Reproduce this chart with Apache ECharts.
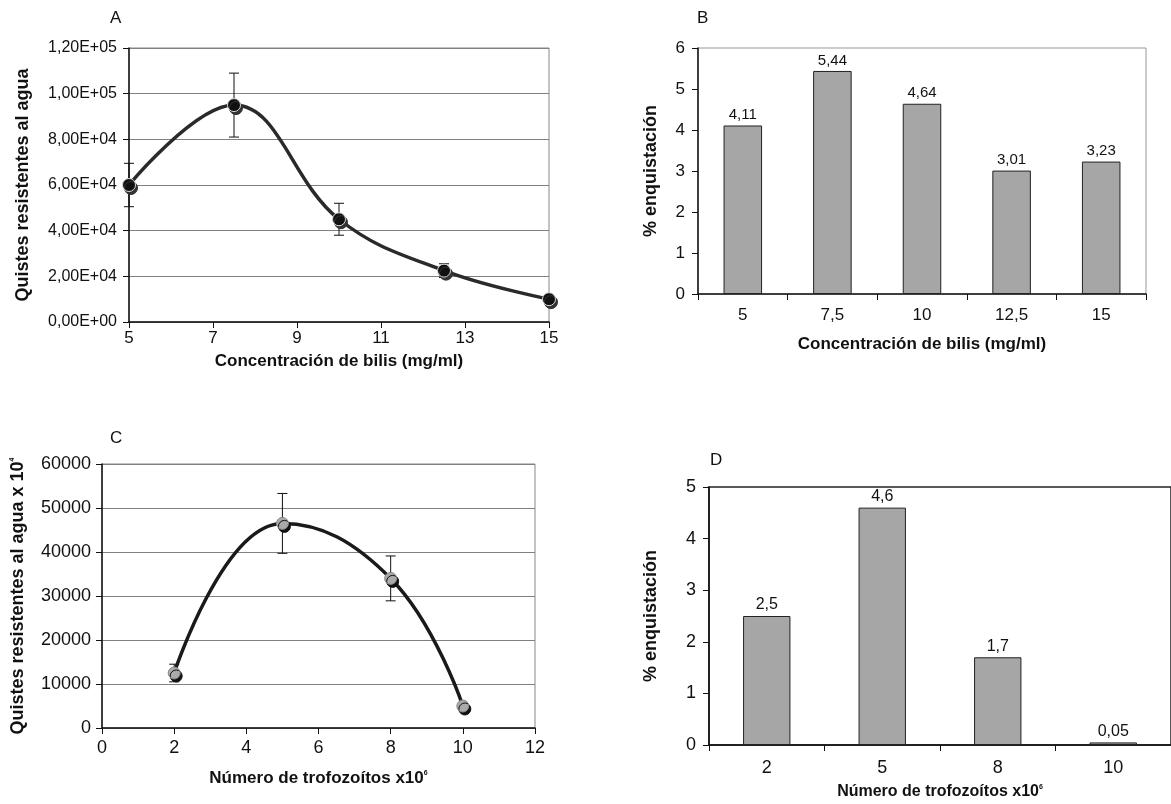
<!DOCTYPE html>
<html>
<head>
<meta charset="utf-8">
<script src="https://cdn.jsdelivr.net/npm/echarts@6/dist/echarts.min.js"></script>
<style>
  html, body { margin: 0; padding: 0; background: #fff; }
  #chart { width: 1171px; height: 804px; }
</style>
</head>
<body>
<div id="chart"></div>
<script>
// A: quistes vs concentración de bilis
const bilisX = [5, 7.5, 10, 12.5, 15];
const quistesA = [60000, 95000, 45000, 22500, 10000];
const errA = [9500, 14000, 7000, 3000, 0];
// B: % enquistación vs bilis
const bilisCats = ['5', '7,5', '10', '12,5', '15'];
const enqB = [4.11, 5.44, 4.64, 3.01, 3.23];
// C: quistes vs número de trofozoítos
const trofX = [2, 5, 8, 10];
const quistesC = [12500, 46500, 34000, 5000];
const errC = [2000, 6800, 5100, 0];
// D: % enquistación vs trofozoítos
const trofCats = ['2', '5', '8', '10'];
const enqD = [2.5, 4.6, 1.7, 0.05];

const FONT = '"Liberation Sans", Arial, sans-serif';

const chart = echarts.init(document.getElementById('chart'));

function sci(v) {
  if (v === 0) return '0,00E+00';
  const e = Math.floor(Math.log10(v));
  const m = (v / Math.pow(10, e)).toFixed(2).replace('.', ',');
  return m + 'E+' + String(e).padStart(2, '0');
}
const comma = p => String(p.value).replace('.', ',');

function errRender(params, api) {
  const x = api.value(0), y = api.value(1), e = api.value(2);
  if (!e) return null;
  const hi = api.coord([x, y + e]);
  const lo = api.coord([x, y - e]);
  const w = 5;
  const st = { stroke: '#111', lineWidth: 1 };
  return {
    type: 'group',
    children: [
      { type: 'line', shape: { x1: hi[0], y1: hi[1], x2: lo[0], y2: lo[1] }, style: st },
      { type: 'line', shape: { x1: hi[0] - w, y1: hi[1], x2: hi[0] + w, y2: hi[1] }, style: st },
      { type: 'line', shape: { x1: lo[0] - w, y1: lo[1], x2: lo[0] + w, y2: lo[1] }, style: st }
    ]
  };
}

const axisLine = { show: true, lineStyle: { color: '#111', width: 1.5 } };
const tick = { show: true, length: 6, lineStyle: { color: '#111' } };
const title = size => ({ fontFamily: FONT, fontWeight: 'bold', fontSize: size, color: '#111' });
const sup = { s: { fontSize: 7, fontWeight: 'bold', verticalAlign: 'top', padding: [0, 0, 9, 0] } };

const options = {
  animation: false,
  textStyle: { fontFamily: FONT },
  graphic: [
    { type: 'text', left: 110, top: 10, style: { text: 'A', font: '17px ' + FONT, fill: '#111' } },
    { type: 'text', left: 697, top: 10, style: { text: 'B', font: '17px ' + FONT, fill: '#111' } },
    { type: 'text', left: 110, top: 430, style: { text: 'C', font: '17px ' + FONT, fill: '#111' } },
    { type: 'text', left: 710, top: 452, style: { text: 'D', font: '17px ' + FONT, fill: '#111' } }
  ],
  grid: [
    { left: 129, top: 48, width: 420, height: 274, show: true, borderColor: '#888', borderWidth: 1, backgroundColor: 'transparent' },
    { left: 698, top: 48, width: 448, height: 246, show: true, borderColor: '#999', borderWidth: 1, backgroundColor: 'transparent' },
    { left: 102, top: 464, width: 433, height: 264, show: true, borderColor: '#888', borderWidth: 1, backgroundColor: 'transparent' },
    { left: 709, top: 487, width: 468, height: 258, show: true, borderColor: '#222', borderWidth: 1.5, backgroundColor: 'transparent' }
  ],
  xAxis: [
    {
      gridIndex: 0, type: 'value', min: 5, max: 15, interval: 2,
      axisLine, axisTick: tick, splitLine: { show: false },
      axisLabel: { fontSize: 17, color: '#111', margin: 8 },
      name: 'Concentración de bilis (mg/ml)', nameLocation: 'middle', nameGap: 31,
      nameTextStyle: title(17)
    },
    {
      gridIndex: 1, type: 'category', data: bilisCats,
      axisLine, axisTick: tick,
      axisLabel: { fontSize: 17, color: '#111', margin: 13 },
      name: 'Concentración de bilis (mg/ml)', nameLocation: 'middle', nameGap: 42,
      nameTextStyle: title(17)
    },
    {
      gridIndex: 2, type: 'value', min: 0, max: 12, interval: 2,
      axisLine, axisTick: tick, splitLine: { show: false },
      axisLabel: { fontSize: 18, color: '#111', margin: 11 },
      name: 'Número de trofozoítos x10{s|6}', nameLocation: 'middle', nameGap: 42,
      nameTextStyle: Object.assign(title(17), { rich: sup })
    },
    {
      gridIndex: 3, type: 'category', data: trofCats,
      axisLine, axisTick: tick,
      axisLabel: { fontSize: 18, color: '#111', margin: 14 },
      name: 'Número de trofozoítos x10{s|6}', nameLocation: 'middle', nameGap: 39,
      nameTextStyle: Object.assign(title(16), { rich: sup })
    }
  ],
  yAxis: [
    {
      gridIndex: 0, type: 'value', min: 0, max: 120000, interval: 20000,
      axisLine, axisTick: tick,
      splitLine: { show: true, lineStyle: { color: '#808080', width: 1 } },
      axisLabel: { fontSize: 16, color: '#111', margin: 12, formatter: sci },
      name: 'Quistes resistentes al agua', nameLocation: 'middle', nameGap: 97,
      nameTextStyle: title(18)
    },
    {
      gridIndex: 1, type: 'value', min: 0, max: 6, interval: 1,
      axisLine, axisTick: tick, splitLine: { show: false },
      axisLabel: { fontSize: 17, color: '#111', margin: 13 },
      name: '% enquistación', nameLocation: 'middle', nameGap: 38,
      nameTextStyle: title(18)
    },
    {
      gridIndex: 2, type: 'value', min: 0, max: 60000, interval: 10000,
      axisLine, axisTick: tick,
      splitLine: { show: true, lineStyle: { color: '#808080', width: 1 } },
      axisLabel: { fontSize: 18, color: '#111', margin: 11, formatter: v => String(v) },
      name: 'Quistes resistentes al agua x 10{s|4}', nameLocation: 'middle', nameGap: 75,
      nameTextStyle: Object.assign(title(18), { rich: sup })
    },
    {
      gridIndex: 3, type: 'value', min: 0, max: 5, interval: 1,
      axisLine, axisTick: tick, splitLine: { show: false },
      axisLabel: { fontSize: 18, color: '#111', margin: 13 },
      name: '% enquistación', nameLocation: 'middle', nameGap: 49,
      nameTextStyle: title(18)
    }
  ],
  series: [
    {
      type: 'custom', xAxisIndex: 0, yAxisIndex: 0, z: 1,
      renderItem: errRender,
      data: bilisX.map((x, i) => [x, quistesA[i], errA[i]])
    },
    {
      type: 'line', xAxisIndex: 0, yAxisIndex: 0, z: 3, smooth: 0.4,
      data: bilisX.map((x, i) => [x, quistesA[i]]),
      lineStyle: { color: '#2a2a2a', width: 3.5 },
      symbol: 'circle', symbolSize: 13,
      itemStyle: { color: '#111', borderColor: '#d8d8d8', borderWidth: 1, shadowColor: '#333', shadowBlur: 0, shadowOffsetX: 2, shadowOffsetY: 3 }
    },
    {
      type: 'bar', xAxisIndex: 1, yAxisIndex: 1, barWidth: '43%',
      data: enqB,
      itemStyle: { color: '#a6a6a6', borderColor: '#222', borderWidth: 1 },
      label: { show: true, position: 'top', distance: 3, fontSize: 15, color: '#111', formatter: comma }
    },
    {
      type: 'custom', xAxisIndex: 2, yAxisIndex: 2, z: 1,
      renderItem: errRender,
      data: trofX.map((x, i) => [x, quistesC[i], errC[i]])
    },
    {
      type: 'line', xAxisIndex: 2, yAxisIndex: 2, z: 3, smooth: 0.45,
      data: trofX.map((x, i) => [x, quistesC[i]]),
      lineStyle: { color: '#1a1a1a', width: 3.5 },
      symbol: 'circle', symbolSize: 12,
      itemStyle: { color: '#aaaaaa', borderColor: '#888', borderWidth: 1, shadowColor: '#111', shadowBlur: 0, shadowOffsetX: 2, shadowOffsetY: 3 }
    },
    {
      type: 'bar', xAxisIndex: 3, yAxisIndex: 3, barWidth: '41%',
      data: enqD,
      itemStyle: { color: '#a6a6a6', borderColor: '#222', borderWidth: 1 },
      label: { show: true, position: 'top', distance: 3, fontSize: 16, color: '#111', formatter: comma }
    }
  ]
};

chart.setOption(options);
</script>
</body>
</html>
